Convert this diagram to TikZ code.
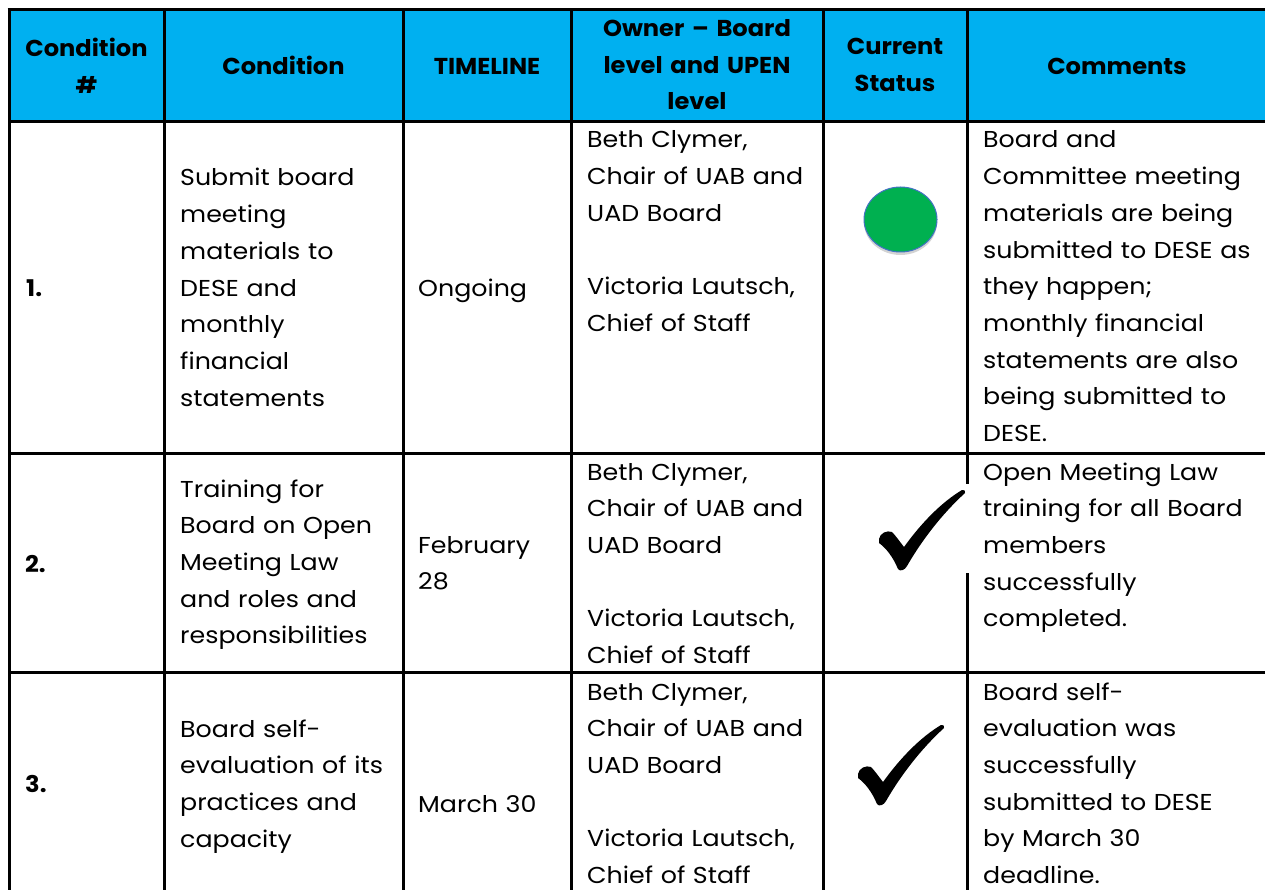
\documentclass[tikz,border=0pt]{standalone}
\usepackage{fontspec}
\setmainfont{Poppins}[FakeStretch=1.1]
\newfontfamily\hdrfamily{Poppins}[FakeStretch=1.05]
\usetikzlibrary{shapes.geometric,shadows}
\definecolor{hdrblue}{HTML}{00B0F0}
\definecolor{okgreen}{HTML}{00B050}
\definecolor{ringblue}{HTML}{4472C4}
\newcommand{\bodysz}{\fontsize{23}{36.7}\selectfont}
\newcommand{\hdrsz}{\hdrfamily\bfseries\fontsize{23}{36.5}\selectfont}
\begin{document}
\begin{tikzpicture}[x=1pt,y=-1pt,
  cell/.style={anchor=base west, inner sep=0pt, text width=#1, align=left, font=\bodysz},
  cell/.default=270pt,
  num/.style={anchor=base west, inner sep=0pt, font=\hdrsz},
  hdr/.style={anchor=base, inner sep=0pt, text width=#1, align=center, font=\hdrsz},
  hdr/.default=150pt,
  grid/.style={line width=3pt, black},
  chk/.pic={\fill[black] (1,49) .. controls (2,43) and (9,40) .. (14,42)
      .. controls (18,46) and (22,52) .. (26,57)
      .. controls (44,32) and (64,12) .. (84,0) .. controls (86,-1) and (88,1) .. (87,3)
      .. controls (64,24) and (44,50) .. (29,76) .. controls (27,80) and (22,82) .. (20,79)
      .. controls (15,67) and (8,58) .. (1,53) -- cycle;}
]
\useasboundingbox (0,0) rectangle (1265,890);
\begin{scope}
\clip (0,0) rectangle (1265,890);
% header band
\fill[hdrblue] (9,10) rectangle (1265,122);
% grid
\draw[grid] (7.5,10) -- (1265,10);
\draw[grid] (9,122) -- (1265,122);
\draw[grid] (9,453) -- (1265,453);
\draw[grid] (9,672) -- (1265,672);
\draw[grid] (9,8.5) -- (9,890);
\draw[grid] (164,10) -- (164,890);
\draw[grid] (403,10) -- (403,890);
\draw[grid] (571,10) -- (571,890);
\draw[grid] (823,10) -- (823,890);
\draw[grid] (967,10) -- (967,890);
\end{scope}

% header texts
\node[hdr=150pt] (h1) at (86.5,57) {Condition\\\#};
\node[hdr=230pt] (h2) at (283.5,75) {Condition};
\node[hdr=160pt] (h3) at (487,75) {TIMELINE};
\node[hdr=245pt] (h4) at (697,37) {Owner – Board\\level and UPEN\\level};
\node[hdr=140pt] (h5) at (895,55) {Current\\Status};
\node[hdr=290pt] (h6) at (1117,75) {Comments};

% row 1
\node[num] (n1) at (26,297) {1.};
\node[cell=220pt] (c1) at (180,186) {Submit board\\meeting\\materials to\\DESE and\\monthly\\financial\\statements};
\node[cell=160pt] (t1) at (418,297) {Ongoing};
\node[cell=240pt] (o1) at (587,148) {Beth Clymer,\\Chair of UAB and\\UAD Board\\[36.7pt]Victoria Lautsch,\\Chief of Staff};
\node[ellipse, minimum width=73pt, minimum height=65pt, inner sep=0pt, fill=okgreen, draw=ringblue, line width=1pt,
      drop shadow={shadow xshift=0pt, shadow yshift=-3pt, opacity=0.35}] (s1) at (900.5,219.5) {};
\node[cell=290pt] (m1) at (983,148) {Board and\\Committee meeting\\materials are being\\submitted to DESE as\\they happen;\\monthly financial\\statements are also\\being submitted to\\DESE.};

% row 2
\node[num] (n2) at (25,572) {2.};
\node[cell=230pt] (c2) at (180,497) {Training for\\Board on Open\\Meeting Law\\and roles and\\responsibilities};
\node[cell=160pt] (t2) at (418,553) {February\\28};
\node[cell=240pt] (o2) at (587,480) {Beth Clymer,\\Chair of UAB and\\UAD Board\\[36.7pt]Victoria Lautsch,\\Chief of Staff};
\fill[white] (965,484) rectangle (969,573);
\pic at (878,490) {chk};
\node[cell=290pt] (m2) at (983,480) {Open Meeting Law\\training for all Board\\members\\successfully\\completed.};

% row 3
\node[num] (n3) at (25,792) {3.};
\node[cell=230pt] (c3) at (180,737) {Board self-\\evaluation of its\\practices and\\capacity};
\node[cell=160pt] (t3) at (418,812) {March 30};
\node[cell=240pt] (o3) at (587,700) {Beth Clymer,\\Chair of UAB and\\UAD Board\\[36.7pt]Victoria Lautsch,\\Chief of Staff};
\pic at (857,725) {chk};
\node[cell=290pt] (m3) at (983,700) {Board self-\\evaluation was\\successfully\\submitted to DESE\\by March 30\\deadline.};
\end{tikzpicture}
\end{document}
